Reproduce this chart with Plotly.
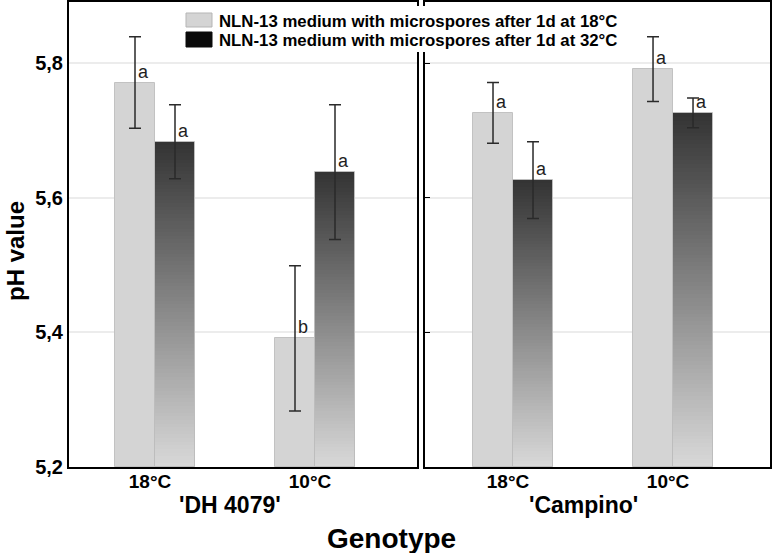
import plotly.graph_objects as go

# ---------------- data ----------------
temperatures = ["18°C", "10°C"]
genotypes = ["'DH 4079'", "'Campino'"]
series_names = ["NLN-13 medium with microspores after 1d at 18°C",
                "NLN-13 medium with microspores after 1d at 32°C"]

# mean pH values [genotype][temperature]
ph_18 = [[5.771, 5.391], [5.726, 5.791]]
ph_32 = [[5.683, 5.638], [5.626, 5.726]]
err_18 = [[0.068, 0.108], [0.045, 0.048]]
err_32 = [[0.055, 0.100], [0.057, 0.022]]
letters_18 = [["a", "b"], ["a", "a"]]
letters_32 = [["a", "a"], ["a", "a"]]

y_ticks = [5.2, 5.4, 5.6, 5.8]
y_ticktext = ["5,2", "5,4", "5,6", "5,8"]

# ---------------- layout constants ----------------
W, H = 774, 553
ML, MR, MT, MB = 69, 4, 2, 86
PW, PH = W - ML - MR, H - MT - MB
YMIN, YMAX = 5.2, 5.8906
BW = 0.25
LIGHT = "#d4d4d4"
FONT = "Liberation Sans, Arial, sans-serif"


def px(x):
    return (x - ML) / PW


def py(y):
    return (H - MB - y) / PH


fig = go.Figure()
xrefs = ["x", "x2"]
yrefs = ["y", "y2"]
cats = list(range(len(temperatures)))

N = 90
top_c = (0x34, 0x34, 0x34)
bot_c = (0xd8, 0xd8, 0xd8)

for g in range(len(genotypes)):
    xa, ya = xrefs[g], yrefs[g]
    xl = [c - BW / 2 for c in cats]
    xd = [c + BW / 2 for c in cats]
    # light bars
    fig.add_trace(go.Bar(x=xl, y=[v - YMIN for v in ph_18[g]], base=YMIN, width=BW,
                         marker=dict(color=LIGHT, line=dict(color="#c2c2c2", width=1)),
                         xaxis=xa, yaxis=ya, showlegend=False, hoverinfo="skip"))
    # dark gradient bars (stack of segments, each running to the bar top)
    for k in range(N):
        t = k / (N - 1)
        col = "rgb(%d,%d,%d)" % tuple(round(b + (a - b) * t) for a, b in zip(top_c, bot_c))
        bases = [YMIN + (v - YMIN) * k / N for v in ph_32[g]]
        fig.add_trace(go.Bar(x=xd, y=[v - b for v, b in zip(ph_32[g], bases)], base=bases,
                             width=BW, marker=dict(color=col, line=dict(width=0)),
                             xaxis=xa, yaxis=ya, showlegend=False, hoverinfo="skip"))
    fig.add_trace(go.Bar(x=xd, y=[v - YMIN for v in ph_32[g]], base=YMIN, width=BW,
                         marker=dict(color="rgba(0,0,0,0)", line=dict(color="#bdbdbd", width=1)),
                         xaxis=xa, yaxis=ya, showlegend=False, hoverinfo="skip"))
    # error bars
    for xs, vals, errs in ((xl, ph_18[g], err_18[g]), (xd, ph_32[g], err_32[g])):
        fig.add_trace(go.Scatter(x=xs, y=vals, mode="markers", marker=dict(size=1, opacity=0),
                                 error_y=dict(type="data", array=errs, visible=True,
                                              color="#2a2a2a", thickness=1.5, width=6),
                                 xaxis=xa, yaxis=ya, showlegend=False, hoverinfo="skip"))
    # significance letters
    for xs, vals, lets in ((xl, ph_18[g], letters_18[g]), (xd, ph_32[g], letters_32[g])):
        for x, v, s in zip(xs, vals, lets):
            fig.add_annotation(x=x, y=v, xref=xa, yref=ya, text=s, showarrow=False,
                               xanchor="left", yanchor="bottom", xshift=1, yshift=-1,
                               font=dict(family=FONT, size=18, color="#1e1e1e"))

# axes
dom = [[0, px(417)], [px(425), 1]]
xr = [[-0.5375, 1.6375], [-0.55, 1.606]]
for g in range(2):
    sx = "" if g == 0 else "2"
    fig.update_layout(**{
        "xaxis" + sx: dict(domain=dom[g], range=xr[g], anchor="y" + sx, automargin=False,
                           tickvals=cats, ticktext=temperatures, ticks="",
                           ticklabelshift=-5, ticklabelstandoff=-4,
                           showline=True, mirror=True, linecolor="black", linewidth=2,
                           showgrid=False, zeroline=False,
                           tickfont=dict(family=FONT, size=19, color="black", weight="bold")),
        "yaxis" + sx: dict(range=[YMIN, YMAX], anchor="x" + sx, automargin=False,
                           tickvals=y_ticks,
                           ticktext=y_ticktext, showticklabels=(g == 0),
                           ticks="" if g == 0 else "inside", ticklen=5, tickcolor="black",
                           showline=True, mirror=True, linecolor="black", linewidth=2,
                           showgrid=True, gridcolor="#ececec", gridwidth=1.5, zeroline=False,
                           tickfont=dict(family=FONT, size=20, color="black", weight="bold")),
    })

# genotype labels and axis titles
fig.add_annotation(x=px(230), y=py(505), xref="paper", yref="paper", text=genotypes[0],
                   xanchor="center", yanchor="middle",
                   showarrow=False, font=dict(family=FONT, size=23, color="black", weight="bold"))
fig.add_annotation(x=px(583), y=py(505), xref="paper", yref="paper", text=genotypes[1],
                   xanchor="center", yanchor="middle",
                   showarrow=False, font=dict(family=FONT, size=23, color="black", weight="bold"))
fig.add_annotation(x=px(391), y=py(538), xref="paper", yref="paper", text="Genotype",
                   xanchor="center", yanchor="middle",
                   showarrow=False, font=dict(family=FONT, size=28, color="black", weight="bold"))
fig.add_annotation(x=px(16), y=py(251), xref="paper", yref="paper", text="pH value",
                   xanchor="center", yanchor="middle", textangle=-90, showarrow=False,
                   font=dict(family=FONT, size=24, color="black", weight="bold"))

# legend (custom, with white background over the panel borders)
fig.add_shape(type="rect", xref="paper", yref="paper", x0=px(180), x1=px(630), y0=py(52), y1=py(6),
              fillcolor="white", line=dict(width=0), layer="above")
fig.add_shape(type="rect", xref="paper", yref="paper", x0=px(186), x1=px(212), y0=py(27), y1=py(13),
              fillcolor=LIGHT, line=dict(color="#b5b5b5", width=1), layer="above")
fig.add_shape(type="rect", xref="paper", yref="paper", x0=px(186), x1=px(212), y0=py(47), y1=py(32),
              fillcolor="#0a0a0a", line=dict(color="#0a0a0a", width=1), layer="above")
for name, yc in zip(series_names, [21, 40.5]):
    fig.add_annotation(x=px(217), y=py(yc), xref="paper", yref="paper", text=name,
                       xanchor="left", yanchor="middle", showarrow=False,
                       font=dict(family=FONT, size=16.8, color="black", weight="bold"))

fig.update_layout(width=W, height=H, margin=dict(l=ML, r=MR, t=MT, b=MB, autoexpand=False),
                  barmode="overlay", bargap=0, plot_bgcolor="white", paper_bgcolor="white",
                  showlegend=False)

fig.write_html("out.html", config={"displayModeBar": False},
               post_script="document.body.style.margin='0';document.body.style.overflow='hidden';")
